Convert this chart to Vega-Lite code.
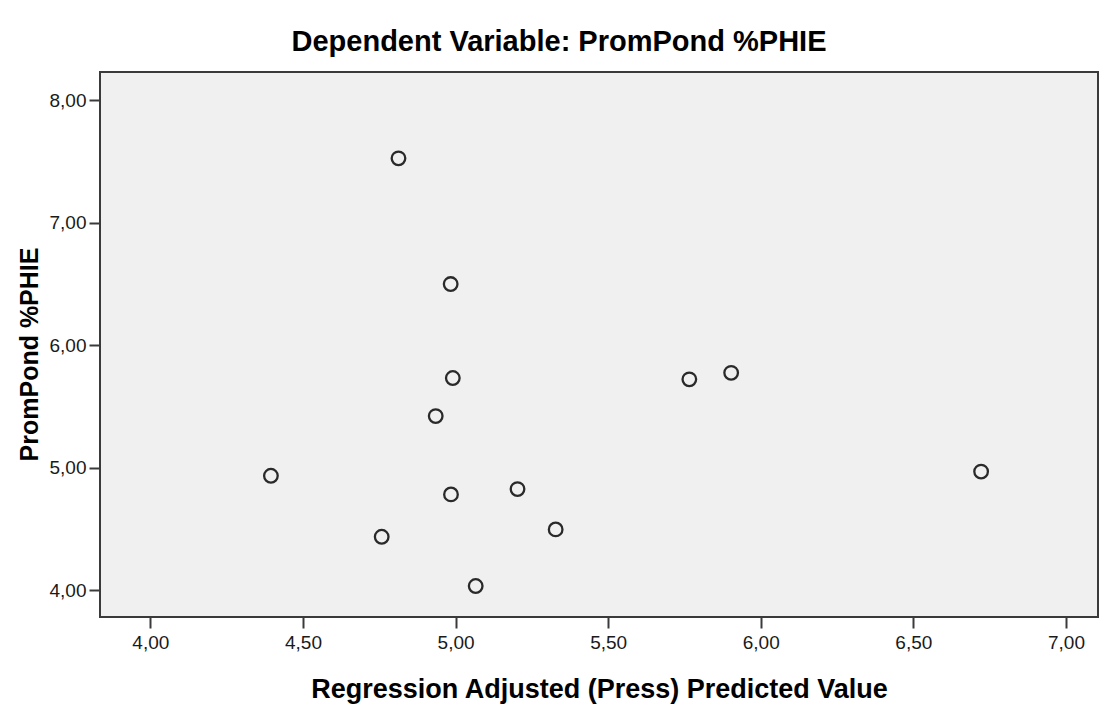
{
  "$schema": "https://vega.github.io/schema/vega-lite/v6.json",
  "autosize": "none",
  "width": 998,
  "height": 545,
  "padding": {"left": 100, "top": 72, "right": 12, "bottom": 87},
  "background": "white",
  "title": {
    "text": "Dependent Variable: PromPond %PHIE",
    "font": "Liberation Sans",
    "fontSize": 29,
    "fontWeight": "bold",
    "color": "#000000",
    "anchor": "middle",
    "dx": -40,
    "offset": 15
  },
  "config": {
    "view": {"fill": "#f0f0f0", "stroke": "#3a3a3a", "strokeWidth": 2},
    "axis": {
      "grid": false,
      "domain": false,
      "tickColor": "#3a3a3a",
      "tickWidth": 2,
      "tickSize": 11,
      "labelFont": "Liberation Sans",
      "labelFontSize": 19,
      "labelColor": "#1a1a1a",
      "titleFont": "Liberation Sans",
      "titleFontWeight": "bold",
      "titleColor": "#000000"
    }
  },
  "data": {
    "values": [
      {"pred": 4.813, "phie": 7.524},
      {"pred": 4.984, "phie": 6.498},
      {"pred": 4.991, "phie": 5.731},
      {"pred": 4.935, "phie": 5.420},
      {"pred": 4.395, "phie": 4.933},
      {"pred": 4.985, "phie": 4.781},
      {"pred": 5.203, "phie": 4.824},
      {"pred": 4.758, "phie": 4.435},
      {"pred": 5.328, "phie": 4.495},
      {"pred": 5.066, "phie": 4.033},
      {"pred": 5.766, "phie": 5.720},
      {"pred": 5.903, "phie": 5.773},
      {"pred": 6.722, "phie": 4.967}
    ]
  },
  "mark": {"type": "point", "shape": "circle", "filled": false, "stroke": "#2a2a2a", "strokeWidth": 2.3, "size": 185, "opacity": 1},
  "encoding": {
    "x": {
      "field": "pred",
      "type": "quantitative",
      "title": "Regression Adjusted (Press) Predicted Value",
      "scale": {"domain": [3.835, 7.105], "nice": false, "zero": false},
      "axis": {
        "values": [4, 4.5, 5, 5.5, 6, 6.5, 7],
        "labelExpr": "replace(format(datum.value, '.2f'), '.', ',')",
        "labelPadding": 5,
        "titleFontSize": 27,
        "titlePadding": 24
      }
    },
    "y": {
      "field": "phie",
      "type": "quantitative",
      "title": "PromPond %PHIE",
      "scale": {"domain": [3.78, 8.229], "nice": false, "zero": false},
      "axis": {
        "values": [4, 5, 6, 7, 8],
        "labelExpr": "replace(format(datum.value, '.2f'), '.', ',')",
        "labelPadding": 3,
        "titleFontSize": 25,
        "titlePadding": 7,
        "titleY": 282
      }
    }
  }
}
